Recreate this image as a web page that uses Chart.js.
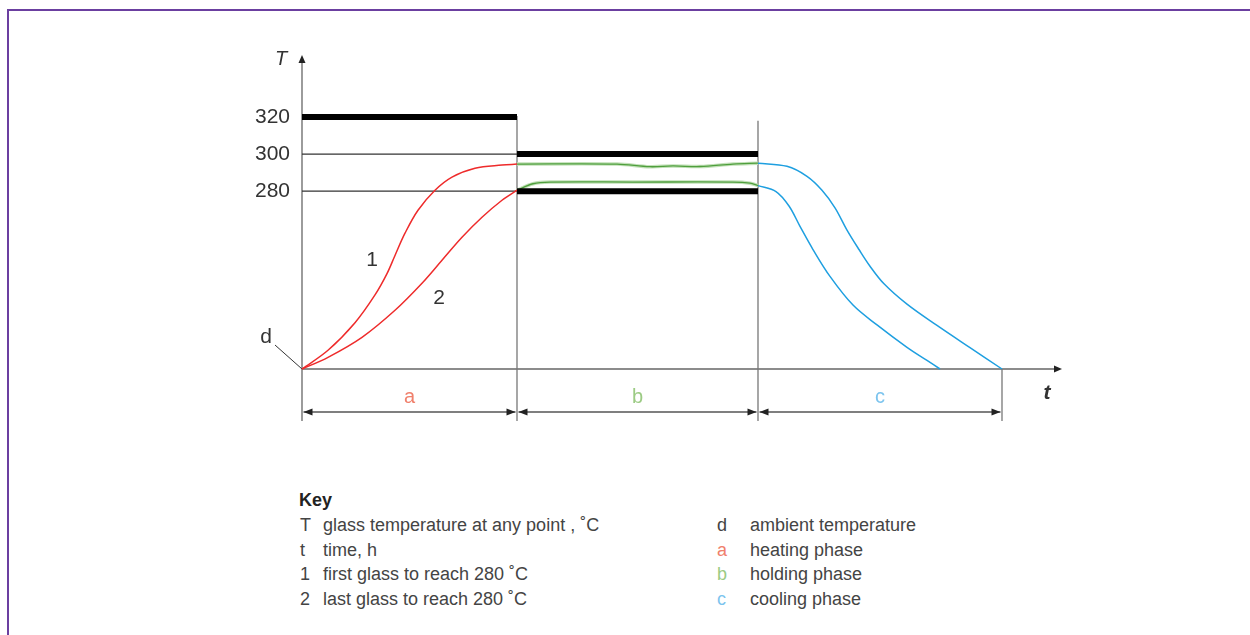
<!DOCTYPE html>
<html>
<head>
<meta charset="utf-8">
<script src="https://cdn.jsdelivr.net/npm/chart.js@4/dist/chart.umd.min.js"></script>
<style>
  html, body { margin: 0; padding: 0; background: #fff; overflow: hidden; }
  body { width: 1250px; height: 635px; position: relative; font-family: "Liberation Sans", Arial, sans-serif; }
  .frame { position: absolute; left: 7px; top: 9px; width: 1300px; height: 700px; border-left: 2px solid #6b3fa0; border-top: 2px solid #6b3fa0; }
  #chart { position: absolute; left: 0; top: 0; }
  .key { position: absolute; color: #444; font-size: 18px; line-height: 20px; }
  .key .title { position: absolute; left: 299px; top: 490px; font-weight: bold; color: #222; font-size: 18px; }
  .key .row { position: absolute; white-space: nowrap; }
</style>
</head>
<body>
<div class="frame"></div>
<canvas id="chart" width="1250" height="450"></canvas>
<div class="key" id="key"><div class="title">Key</div></div>
<script>
// ---- Data (x = time units, y = temperature) ----
const BASE_T = 184;            // ambient temperature level (d)
const PHASE_BOUNDS = [0, 215, 456, 700];
const PHASE_LABELS = ['a', 'b', 'c'];
const PHASE_COLORS = ['#f0806c', '#9ccb84', '#7cc4ee'];
const Y_TICKS = [320, 300, 280];

const heat1X = [0, 26, 53, 73, 85, 93, 103, 116, 133, 150, 173, 200, 215];
const heat1Y = [184, 194.1, 209.0, 224.0, 235.5, 245.3, 257.3, 269.7, 280.5, 287.6, 292.4, 294.1, 294.6];
const heat2X = [0, 26, 60, 93, 120, 140, 160, 180, 200, 215];
const heat2Y = [184, 190.3, 201.1, 215.7, 230.3, 242.7, 255.1, 265.9, 275.1, 280.5];

const hold1X = [215, 315, 348, 371, 398, 431, 456];
const hold1Y = [294.6, 294.6, 293.2, 293.6, 293.3, 294.6, 295.1];
const hold2X = [215, 231, 248, 331, 431, 448, 456];
const hold2Y = [280.5, 284.0, 284.9, 284.9, 284.9, 284.3, 283.0];

const cool1X = [456, 485, 505, 520, 533, 545, 557, 568, 582, 605, 635, 668, 700];
const cool1Y = [295.1, 293.4, 288.0, 280.5, 271.0, 259.0, 248.5, 239.5, 230.0, 219.0, 207.5, 195.5, 184];
const cool2X = [456, 474, 487, 498, 511, 528, 551, 575, 605, 625, 638];
const cool2Y = [283.0, 279.8, 272.0, 261.0, 248.5, 234.0, 218.5, 207.8, 195.7, 188.6, 184];

// limit bars: [x0, x1, level]
const limitBars = [[0, 215, 320], [215, 456, 300], [215, 456, 280]];
// thin reference lines in heating phase
const refLines = [[0, 215, 300], [0, 215, 280]];

const keyLeft = [
  ['T', 'glass temperature at any point , ˚C'],
  ['t', 'time, h'],
  ['1', 'first glass to reach 280 ˚C'],
  ['2', 'last glass to reach 280 ˚C'],
];
const keyRight = [
  ['d', 'ambient temperature', '#444'],
  ['a', 'heating phase', PHASE_COLORS[0]],
  ['b', 'holding phase', PHASE_COLORS[1]],
  ['c', 'cooling phase', PHASE_COLORS[2]],
];

const pts = (xs, ys) => xs.map((x, i) => ({ x: x, y: ys[i] }));
const seg = (x0, x1, y) => [{ x: x0, y: y }, { x: x1, y: y }];

function curve(data, color, width, order) {
  return { data: data, borderColor: color, borderWidth: width, pointRadius: 0,
           tension: 0.35, fill: false, clip: false, order: order || 0 };
}

const datasets = [];
refLines.forEach(r => datasets.push({ data: seg(r[0], r[1], r[2]), borderColor: '#333', borderWidth: 1.2, pointRadius: 0, clip: false, order: 2 }));
limitBars.forEach(b => datasets.push({ data: seg(b[0], b[1], b[2]), borderColor: '#000', borderWidth: 6, pointRadius: 0, clip: false, order: 0 }));
datasets.push(curve(pts(heat1X, heat1Y), '#ee2b2b', 1.5));
datasets.push(curve(pts(heat2X, heat2Y), '#ee2b2b', 1.5));
// holding curves: pale halo below, darker core on top
datasets.push(curve(pts(hold1X, hold1Y), '#c2e0b8', 3.5, 1));
datasets.push(curve(pts(hold2X, hold2Y), '#c2e0b8', 3.5, 1));
datasets.push(curve(pts(hold1X, hold1Y), '#4f9f3d', 1.3));
datasets.push(curve(pts(hold2X, hold2Y), '#4f9f3d', 1.3));
datasets.push(curve(pts(cool1X, cool1Y), '#1e9fe0', 1.5));
datasets.push(curve(pts(cool2X, cool2Y), '#1e9fe0', 1.5));

// ---- Axes, dimension lines and labels ----
const FONT = '"Liberation Sans", Arial, sans-serif';
const diagram = {
  id: 'diagram',
  beforeDatasetsDraw(chart) {
    const { ctx, chartArea: ca, scales: { x, y } } = chart;
    const x0 = x.getPixelForValue(0);
    const yb = y.getPixelForValue(BASE_T);
    const dimY = yb + 43, extY = yb + 52;
    ctx.save();
    ctx.strokeStyle = '#666';
    ctx.fillStyle = '#222';
    ctx.lineWidth = 1.3;

    // y axis with arrow
    ctx.beginPath(); ctx.moveTo(x0, extY); ctx.lineTo(x0, ca.top + 6); ctx.stroke();
    ctx.beginPath(); ctx.moveTo(x0, ca.top); ctx.lineTo(x0 - 3.5, ca.top + 8); ctx.lineTo(x0 + 3.5, ca.top + 8); ctx.closePath(); ctx.fill();
    // x axis with arrow
    ctx.beginPath(); ctx.moveTo(x0, yb); ctx.lineTo(ca.right - 6, yb); ctx.stroke();
    ctx.beginPath(); ctx.moveTo(ca.right, yb); ctx.lineTo(ca.right - 8, yb - 3.5); ctx.lineTo(ca.right - 8, yb + 3.5); ctx.closePath(); ctx.fill();

    // phase boundary lines
    ctx.strokeStyle = '#777';
    const p1 = x.getPixelForValue(PHASE_BOUNDS[1]);
    ctx.beginPath(); ctx.moveTo(p1, y.getPixelForValue(320) - 1); ctx.lineTo(p1, extY); ctx.stroke();
    const p2 = x.getPixelForValue(PHASE_BOUNDS[2]);
    ctx.beginPath(); ctx.moveTo(p2, y.getPixelForValue(318)); ctx.lineTo(p2, extY); ctx.stroke();
    const pEnd = x.getPixelForValue(PHASE_BOUNDS[3]);
    ctx.beginPath(); ctx.moveTo(pEnd, yb); ctx.lineTo(pEnd, extY); ctx.stroke();

    // dimension lines with arrows
    ctx.strokeStyle = '#555';
    for (let i = 0; i < 3; i++) {
      const a = x.getPixelForValue(PHASE_BOUNDS[i]) + 1.5;
      const b = x.getPixelForValue(PHASE_BOUNDS[i + 1]) - 1.5;
      ctx.beginPath(); ctx.moveTo(a, dimY); ctx.lineTo(b, dimY); ctx.stroke();
      ctx.fillStyle = '#222';
      ctx.beginPath(); ctx.moveTo(a, dimY); ctx.lineTo(a + 9, dimY - 3.5); ctx.lineTo(a + 9, dimY + 3.5); ctx.closePath(); ctx.fill();
      ctx.beginPath(); ctx.moveTo(b, dimY); ctx.lineTo(b - 9, dimY - 3.5); ctx.lineTo(b - 9, dimY + 3.5); ctx.closePath(); ctx.fill();
      ctx.fillStyle = PHASE_COLORS[i];
      ctx.font = '20px ' + FONT;
      ctx.textAlign = 'center'; ctx.textBaseline = 'middle';
      ctx.fillText(PHASE_LABELS[i], (a + b) / 2, dimY - 15);
    }

    // d leader
    ctx.strokeStyle = '#333'; ctx.lineWidth = 1;
    ctx.beginPath(); ctx.moveTo(x0 - 27, yb - 24); ctx.lineTo(x0, yb); ctx.stroke();

    // texts
    ctx.fillStyle = '#333';
    ctx.textBaseline = 'middle';
    ctx.font = '21px ' + FONT;
    ctx.textAlign = 'right';
    Y_TICKS.forEach(v => ctx.fillText(String(v), x0 - 12, y.getPixelForValue(v)));
    ctx.textAlign = 'center';
    ctx.fillText('d', x0 - 36, yb - 32);
    ctx.fillText('1', x.getPixelForValue(70), y.getPixelForValue(242.8));
    ctx.fillText('2', x.getPixelForValue(137), y.getPixelForValue(222.3));
    ctx.font = 'italic 20px ' + FONT;
    ctx.fillText('T', x0 - 21, ca.top + 4);
    ctx.font = 'italic bold 21px ' + FONT;
    ctx.fillText('t', ca.right - 15, yb + 24);
    ctx.restore();
  }
};

new Chart(document.getElementById('chart'), {
  type: 'line',
  data: { datasets: datasets },
  options: {
    responsive: false,
    animation: false,
    devicePixelRatio: 1,
    layout: { padding: { left: 302, right: 188, top: 55, bottom: 81 } },
    plugins: { legend: { display: false }, tooltip: { enabled: false } },
    scales: {
      x: { type: 'linear', display: false, min: 0, max: 760 },
      y: { type: 'linear', display: false, min: BASE_T, max: 353.5 },
    },
  },
  plugins: [diagram],
});

// ---- Key ----
const key = document.getElementById('key');
function addRow(left, textLeft, top, sym, text, color) {
  const s = document.createElement('div');
  s.className = 'row'; s.style.left = left + 'px'; s.style.top = top + 'px';
  s.style.color = color || '#444'; s.textContent = sym;
  const t = document.createElement('div');
  t.className = 'row'; t.style.left = textLeft + 'px'; t.style.top = top + 'px';
  t.textContent = text;
  key.appendChild(s); key.appendChild(t);
}
keyLeft.forEach((r, i) => addRow(300, 323, 515 + i * 24.7, r[0], r[1]));
keyRight.forEach((r, i) => addRow(717, 750, 515 + i * 24.7, r[0], r[1], r[2]));
</script>
</body>
</html>
